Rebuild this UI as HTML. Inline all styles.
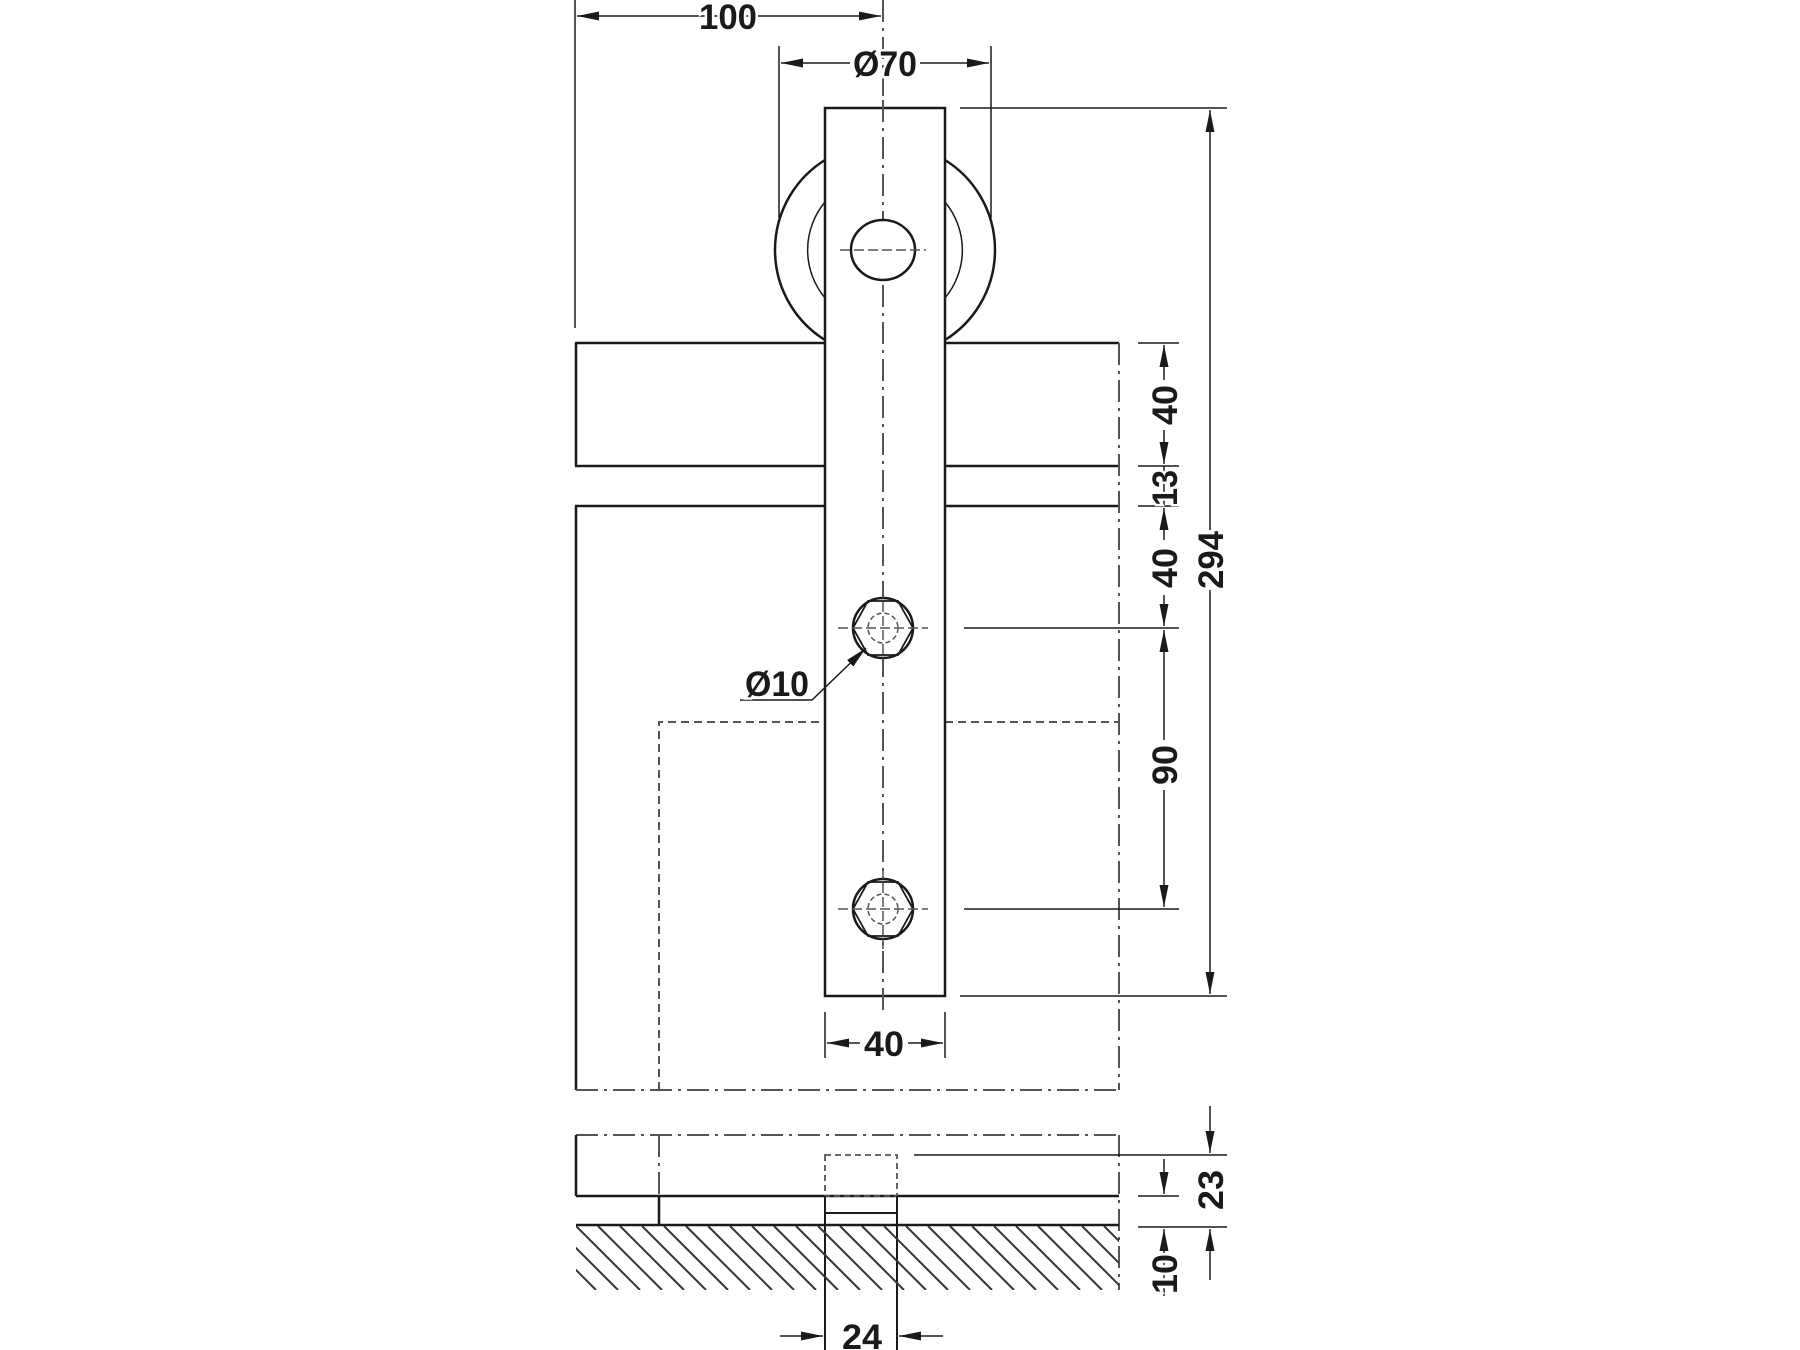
<!DOCTYPE html>
<html><head><meta charset="utf-8"><style>
html,body{margin:0;padding:0;background:#fff;}
svg{display:block;}
text{font-family:"Liberation Sans",sans-serif;font-weight:bold;fill:#1a1a1a;stroke:#fff;stroke-width:5;paint-order:stroke;}
</style></head><body>
<svg width="1800" height="1350" viewBox="0 0 1800 1350" xmlns="http://www.w3.org/2000/svg">
<defs>
<marker id="a" viewBox="0 0 22 9" refX="22" refY="4.5" markerWidth="22" markerHeight="9" markerUnits="userSpaceOnUse" orient="auto"><path d="M0,0 L22,4.5 L0,9 Z" fill="#1a1a1a"/></marker>
<clipPath id="hc"><rect x="576" y="1226" width="543" height="64"/></clipPath>
</defs>
<g stroke="#1a1a1a" fill="none">
<line x1="883" y1="0" x2="883" y2="1010" stroke="#555" stroke-width="2" stroke-dasharray="22,6,3,6"/>
<path d="M825,160 A106,106 0 0 0 825,340" stroke-width="2.5"/>
<path d="M945,160 A106,106 0 0 1 945,340" stroke-width="2.5"/>
<path d="M825,202 A75,75 0 0 0 825,298" stroke-width="1.5"/>
<path d="M945,202 A75,75 0 0 1 945,298" stroke-width="1.5"/>
<line x1="575" y1="343" x2="825" y2="343" stroke-width="2.5"/>
<line x1="945" y1="343" x2="1119" y2="343" stroke-width="2.5"/>
<line x1="575" y1="466" x2="825" y2="466" stroke-width="2.5"/>
<line x1="945" y1="466" x2="1119" y2="466" stroke-width="2.5"/>
<line x1="575" y1="506" x2="825" y2="506" stroke-width="2.5"/>
<line x1="945" y1="506" x2="1119" y2="506" stroke-width="2.5"/>
<line x1="576" y1="343" x2="576" y2="466" stroke-width="2.5"/>
<line x1="576" y1="506" x2="576" y2="1090" stroke-width="2.5"/>
<line x1="1119" y1="343" x2="1119" y2="1090" stroke="#555" stroke-width="2" stroke-dasharray="22,6,3,6"/>
<line x1="576" y1="1090" x2="1119" y2="1090" stroke="#555" stroke-width="2" stroke-dasharray="22,6,3,6"/>
<path d="M659,1090 V722 H825 M945,722 H1119" stroke="#555" stroke-width="2" stroke-dasharray="8,5"/>
<rect x="825" y="108" width="120" height="888" fill="#fff" stroke-width="2.5"/>
<line x1="883" y1="100" x2="883" y2="1010" stroke="#555" stroke-width="2" stroke-dasharray="22,6,3,6"/>
<ellipse cx="883" cy="250" rx="32" ry="30" fill="#fff" stroke-width="2.5"/>
<line x1="840" y1="250" x2="926" y2="250" stroke="#555" stroke-width="1.5" stroke-dasharray="10,4"/>
<g transform="translate(883,628)">
<circle r="30" fill="#fff" stroke-width="2.5"/>
<polygon points="-30,0 -15,-27 15,-27 30,0 15,27 -15,27" stroke-width="1.8"/>
<circle r="15" stroke="#555" stroke-width="1.5" stroke-dasharray="5,3"/>
<line x1="-45" y1="0" x2="45" y2="0" stroke="#555" stroke-width="1.5" stroke-dasharray="10,4"/>
<line x1="0" y1="-40" x2="0" y2="40" stroke="#555" stroke-width="1.5" stroke-dasharray="10,4"/>
</g>
<g transform="translate(883,909)">
<circle r="30" fill="#fff" stroke-width="2.5"/>
<polygon points="-30,0 -15,-27 15,-27 30,0 15,27 -15,27" stroke-width="1.8"/>
<circle r="15" stroke="#555" stroke-width="1.5" stroke-dasharray="5,3"/>
<line x1="-45" y1="0" x2="45" y2="0" stroke="#555" stroke-width="1.5" stroke-dasharray="10,4"/>
<line x1="0" y1="-40" x2="0" y2="40" stroke="#555" stroke-width="1.5" stroke-dasharray="10,4"/>
</g>
<polyline points="740,700 812,700 866,648" stroke-width="1.5" marker-end="url(#a)"/>
<line x1="575" y1="0" x2="575" y2="328" stroke-width="1.5"/>
<line x1="779" y1="46" x2="779" y2="218" stroke-width="1.5"/>
<line x1="991" y1="46" x2="991" y2="218" stroke-width="1.5"/>
<line x1="960" y1="108" x2="1227" y2="108" stroke-width="1.5"/>
<line x1="960" y1="996" x2="1227" y2="996" stroke-width="1.5"/>
<line x1="964" y1="628" x2="1179" y2="628" stroke-width="1.5"/>
<line x1="964" y1="909" x2="1179" y2="909" stroke-width="1.5"/>
<line x1="1138" y1="343" x2="1179" y2="343" stroke-width="1.5"/>
<line x1="1138" y1="466" x2="1179" y2="466" stroke-width="1.5"/>
<line x1="1138" y1="506" x2="1179" y2="506" stroke-width="1.5"/>
<line x1="825" y1="1012" x2="825" y2="1058" stroke-width="1.5"/>
<line x1="945" y1="1012" x2="945" y2="1058" stroke-width="1.5"/>
<line x1="720" y1="16" x2="577" y2="16" stroke-width="1.5" marker-end="url(#a)"/>
<line x1="740" y1="16" x2="881" y2="16" stroke-width="1.5" marker-end="url(#a)"/>
<line x1="850" y1="63" x2="781" y2="63" stroke-width="1.5" marker-end="url(#a)"/>
<line x1="920" y1="63" x2="989" y2="63" stroke-width="1.5" marker-end="url(#a)"/>
<line x1="1210" y1="530" x2="1210" y2="110" stroke-width="1.5" marker-end="url(#a)"/>
<line x1="1210" y1="590" x2="1210" y2="994" stroke-width="1.5" marker-end="url(#a)"/>
<line x1="1164" y1="380" x2="1164" y2="345" stroke-width="1.5" marker-end="url(#a)"/>
<line x1="1164" y1="430" x2="1164" y2="464" stroke-width="1.5" marker-end="url(#a)"/>
<line x1="1164" y1="466" x2="1164" y2="506" stroke-width="1.5"/>
<line x1="1164" y1="540" x2="1164" y2="508" stroke-width="1.5" marker-end="url(#a)"/>
<line x1="1164" y1="595" x2="1164" y2="626" stroke-width="1.5" marker-end="url(#a)"/>
<line x1="1164" y1="740" x2="1164" y2="630" stroke-width="1.5" marker-end="url(#a)"/>
<line x1="1164" y1="790" x2="1164" y2="907" stroke-width="1.5" marker-end="url(#a)"/>
<line x1="860" y1="1043" x2="827" y2="1043" stroke-width="1.5" marker-end="url(#a)"/>
<line x1="908" y1="1043" x2="943" y2="1043" stroke-width="1.5" marker-end="url(#a)"/>
<line x1="576" y1="1135" x2="1119" y2="1135" stroke="#555" stroke-width="2" stroke-dasharray="22,6,3,6"/>
<line x1="1119" y1="1135" x2="1119" y2="1290" stroke="#555" stroke-width="2" stroke-dasharray="22,6,3,6"/>
<line x1="659" y1="1135" x2="659" y2="1196" stroke="#555" stroke-width="2" stroke-dasharray="22,6,3,6"/>
<line x1="576" y1="1135" x2="576" y2="1196" stroke-width="2.5"/>
<line x1="576" y1="1196" x2="1119" y2="1196" stroke-width="2.5"/>
<line x1="576" y1="1225" x2="1119" y2="1225" stroke-width="2.5"/>
<line x1="659" y1="1196" x2="659" y2="1225" stroke-width="2.5"/>
<rect x="825" y="1155" width="72" height="41" stroke="#555" stroke-width="1.8" stroke-dasharray="6,4"/>
<line x1="825" y1="1196" x2="825" y2="1350" stroke-width="2"/>
<line x1="897" y1="1196" x2="897" y2="1350" stroke-width="2"/>
<line x1="825" y1="1213" x2="897" y2="1213" stroke-width="2"/>
<g clip-path="url(#hc)" stroke="#333" stroke-width="2">
<path d="M510,1226 l64,64 M532,1226 l64,64 M554,1226 l64,64 M576,1226 l64,64 M598,1226 l64,64 M620,1226 l64,64 M642,1226 l64,64 M664,1226 l64,64 M686,1226 l64,64 M708,1226 l64,64 M730,1226 l64,64 M752,1226 l64,64 M774,1226 l64,64 M796,1226 l64,64 M818,1226 l64,64 M840,1226 l64,64 M862,1226 l64,64 M884,1226 l64,64 M906,1226 l64,64 M928,1226 l64,64 M950,1226 l64,64 M972,1226 l64,64 M994,1226 l64,64 M1016,1226 l64,64 M1038,1226 l64,64 M1060,1226 l64,64 M1082,1226 l64,64 M1104,1226 l64,64"/>
</g>
<line x1="914" y1="1155" x2="1227" y2="1155" stroke-width="1.5"/>
<line x1="1138" y1="1196" x2="1179" y2="1196" stroke-width="1.5"/>
<line x1="1138" y1="1227" x2="1227" y2="1227" stroke-width="1.5"/>
<line x1="1210" y1="1106" x2="1210" y2="1153" stroke-width="1.5" marker-end="url(#a)"/>
<line x1="1210" y1="1280" x2="1210" y2="1229" stroke-width="1.5" marker-end="url(#a)"/>
<line x1="1164" y1="1159" x2="1164" y2="1194" stroke-width="1.5" marker-end="url(#a)"/>
<line x1="1164" y1="1296" x2="1164" y2="1229" stroke-width="1.5" marker-end="url(#a)"/>
<line x1="780" y1="1336" x2="823" y2="1336" stroke-width="1.5" marker-end="url(#a)"/>
<line x1="943" y1="1336" x2="899" y2="1336" stroke-width="1.5" marker-end="url(#a)"/>
</g>
<g font-size="35">
<text x="728" y="29" text-anchor="middle" textLength="58" lengthAdjust="spacingAndGlyphs">100</text>
<text x="885" y="76" text-anchor="middle" textLength="64" lengthAdjust="spacingAndGlyphs">Ø70</text>
<text x="777" y="696" text-anchor="middle" textLength="64" lengthAdjust="spacingAndGlyphs">Ø10</text>
<text x="884" y="1056" text-anchor="middle" textLength="40" lengthAdjust="spacingAndGlyphs">40</text>
<text x="862" y="1349" text-anchor="middle" textLength="40" lengthAdjust="spacingAndGlyphs">24</text>
<text transform="translate(1177,405) rotate(-90)" text-anchor="middle" textLength="40" lengthAdjust="spacingAndGlyphs">40</text>
<text transform="translate(1177,488) rotate(-90)" text-anchor="middle" textLength="36" lengthAdjust="spacingAndGlyphs">13</text>
<text transform="translate(1177,568) rotate(-90)" text-anchor="middle" textLength="40" lengthAdjust="spacingAndGlyphs">40</text>
<text transform="translate(1177,765) rotate(-90)" text-anchor="middle" textLength="40" lengthAdjust="spacingAndGlyphs">90</text>
<text transform="translate(1223,560) rotate(-90)" text-anchor="middle" textLength="58" lengthAdjust="spacingAndGlyphs">294</text>
<text transform="translate(1223,1190) rotate(-90)" text-anchor="middle" textLength="40" lengthAdjust="spacingAndGlyphs">23</text>
<text transform="translate(1177,1274) rotate(-90)" text-anchor="middle" textLength="40" lengthAdjust="spacingAndGlyphs">10</text>
</g>
</svg>
</body></html>
